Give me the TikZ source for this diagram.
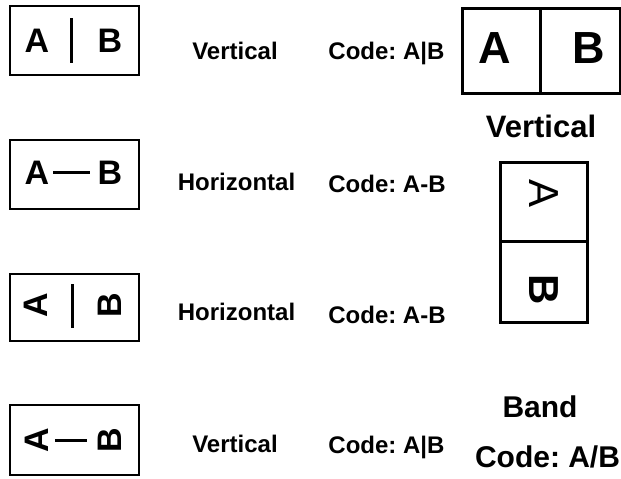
\documentclass[tikz,border=0pt]{standalone}
\usepackage{fontspec}
\setmainfont{Liberation Sans}
\usetikzlibrary{calc}
\usetikzlibrary{positioning}
\frenchspacing

\begin{document}
\begin{tikzpicture}[x=1pt, y=-1pt,
		keybox/.style={draw, line width=2pt, minimum width=129pt, minimum height=69pt, inner sep=0pt},
		cell/.style={draw, line width=3pt, inner sep=0pt, outer sep=0pt},
		letter/.style={inner sep=0pt, font=\fontsize{34}{34}\selectfont\bfseries},
		bigletter/.style={inner sep=0pt, font=\fontsize{45}{45}\selectfont\bfseries},
		caption/.style={inner sep=0pt, anchor=base, font=\fontsize{24}{28}\selectfont\bfseries},
		bigcaption/.style={inner sep=0pt, anchor=base, font=\fontsize{30}{34}\selectfont\bfseries},
		bar/.style={line width=3pt}]
				\useasboundingbox (0,0) rectangle (621,479);
				
				% left column: the four keys
				\node[keybox] (k1) at (74.5,40.5) {};
				\node[letter] (k1a) at (37,40.5) {A};
				\node[letter] (k1b) at (110,40.5) {B};
				\draw[bar] ($(k1.north)+(-3.5,13)$) -- ($(k1.south)+(-3.5,-13)$);
				
				\node[keybox] (k2) at (74.5,174) {};
				\node[letter] (k2a) at (37,172.5) {A};
				\node[letter] (k2b) at (110,172.5) {B};
				\draw[bar, shorten <=4pt, shorten >=8pt] (k2a) -- (k2b);
				
				\node[keybox, minimum height=67pt] (k3) at (74.5,307.5) {};
				\node[letter, rotate=90] (k3a) at (36,305) {A};
				\node[letter, rotate=90] (k3b) at (110,305) {B};
				\draw[bar] ($(k3.north)+(-2.5,11)$) -- ($(k3.south)+(-2.5,-14)$);
				
				\node[keybox, minimum height=70pt] (k4) at (74.5,440) {};
				\node[letter, rotate=90] (k4a) at (37,440) {A};
				\node[letter, rotate=90] (k4b) at (110,440) {B};
				\draw[bar, shorten <=6pt, shorten >=11pt] (k4a) -- (k4b);
				
				% middle columns
				\node[caption] (m1) at (235,59) {Vertical};
				\node[caption] (c1) at (386.5,59) {Code: A|B};
				\node[caption] (m2) at (236.5,190) {Horizontal};
				\node[caption] (c2) at (387,192) {Code: A-B};
				\node[caption] (m3) at (236.5,320) {Horizontal};
				\node[caption] (c3) at (387,323) {Code: A-B};
				\node[caption] (m4) at (235,452) {Vertical};
				\node[caption] (c4) at (386.5,453) {Code: A|B};
				
				% right column: the band
				\node[cell, minimum width=78pt, minimum height=85pt] (ra) at (501,50.5) {};
				\node[cell, minimum width=80pt, minimum height=85pt, right=0pt of ra] (rb) {};
				\node[bigletter] (raa) at (494.5,48.5) {A};
				\node[bigletter] (rbb) at (589,48.5) {B};
				\node[bigcaption, font=\fontsize{31}{34}\selectfont\bfseries] (rv) at (541,137) {Vertical};
				
				\node[cell, minimum width=87pt, minimum height=79pt] (va) at (543.5,201.5) {};
				\node[cell, minimum width=87pt, minimum height=81pt, below=0pt of va] (vb) {};
				\node[bigletter, font=\fontsize{42}{42}\selectfont, rotate=-90] (vaa) at (544,194) {A};
				\node[bigletter, font=\fontsize{42}{42}\selectfont\bfseries, rotate=-90] (vbb) at (544,289.5) {B};
				
				\node[bigcaption] (band) at (540,417) {Band};
				\node[bigcaption] (bandcode) at (547.5,467) {Code: A/B};
			\end{tikzpicture}
\end{document}
